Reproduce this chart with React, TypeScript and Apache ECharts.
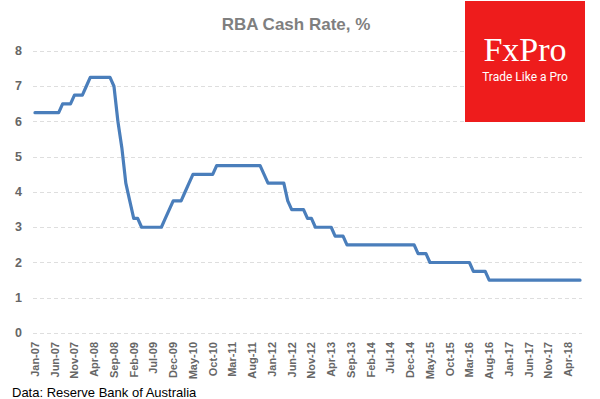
import React, { useEffect, useRef } from "react";
import * as echarts from "echarts";

const monthNames = ["Jan", "Feb", "Mar", "Apr", "May", "Jun", "Jul", "Aug", "Sep", "Oct", "Nov", "Dec"];
const years = ["07", "08", "09", "10", "11", "12", "13", "14", "15", "16", "17", "18"];
const lastYearMonths = 7; // data runs to Jul-18

const rate2007 = [6.25, 6.25, 6.25, 6.25, 6.25, 6.25, 6.25, 6.5, 6.5, 6.5, 6.75, 6.75];
const rate2008 = [6.75, 7.0, 7.25, 7.25, 7.25, 7.25, 7.25, 7.25, 7.0, 6.0, 5.25, 4.25];
const rate2009 = [3.75, 3.25, 3.25, 3.0, 3.0, 3.0, 3.0, 3.0, 3.0, 3.25, 3.5, 3.75];
const rate2010 = [3.75, 3.75, 4.0, 4.25, 4.5, 4.5, 4.5, 4.5, 4.5, 4.5, 4.75, 4.75];
const rate2011 = [4.75, 4.75, 4.75, 4.75, 4.75, 4.75, 4.75, 4.75, 4.75, 4.75, 4.5, 4.25];
const rate2012 = [4.25, 4.25, 4.25, 4.25, 3.75, 3.5, 3.5, 3.5, 3.5, 3.25, 3.25, 3.0];
const rate2013 = [3.0, 3.0, 3.0, 3.0, 2.75, 2.75, 2.75, 2.5, 2.5, 2.5, 2.5, 2.5];
const rate2014 = [2.5, 2.5, 2.5, 2.5, 2.5, 2.5, 2.5, 2.5, 2.5, 2.5, 2.5, 2.5];
const rate2015 = [2.5, 2.25, 2.25, 2.25, 2.0, 2.0, 2.0, 2.0, 2.0, 2.0, 2.0, 2.0];
const rate2016 = [2.0, 2.0, 2.0, 1.75, 1.75, 1.75, 1.75, 1.5, 1.5, 1.5, 1.5, 1.5];
const rate2017 = [1.5, 1.5, 1.5, 1.5, 1.5, 1.5, 1.5, 1.5, 1.5, 1.5, 1.5, 1.5];
const rate2018 = [1.5, 1.5, 1.5, 1.5, 1.5, 1.5, 1.5];

const yTicks = [0, 1, 2, 3, 4, 5, 6, 7, 8];

const rates = [
  ...rate2007, ...rate2008, ...rate2009, ...rate2010, ...rate2011, ...rate2012,
  ...rate2013, ...rate2014, ...rate2015, ...rate2016, ...rate2017, ...rate2018,
];

const categories: string[] = [];
years.forEach((y, i) => {
  const n = i === years.length - 1 ? lastYearMonths : 12;
  for (let m = 0; m < n; m++) categories.push(`${monthNames[m]}-${y}`);
});

export default function App() {
  const ref = useRef<HTMLDivElement>(null);
  useEffect(() => {
    if (!ref.current) return;
    const chart = echarts.init(ref.current, null, { renderer: "svg" });
    chart.setOption({
      animation: false,
      backgroundColor: "#ffffff",
      title: {
        text: "RBA Cash Rate, %",
        left: 291,
        top: 11,
        textAlign: "center",
        textStyle: {
          fontFamily: "Liberation Sans",
          fontSize: 17,
          fontWeight: "bold",
          color: "#7f7f7f",
        },
      },
      grid: { left: 33, right: 18, top: 51, bottom: 66, containLabel: false },
      xAxis: {
        type: "category",
        data: categories,
        boundaryGap: true,
        axisLine: { show: false },
        axisTick: { show: false },
        axisLabel: {
          interval: 4,
          rotate: 90,
          margin: 9,
          fontFamily: "Liberation Sans",
          fontSize: 11,
          fontWeight: "bold",
          color: "#666666",
        },
        splitLine: { show: false },
      },
      yAxis: {
        type: "value",
        min: yTicks[0],
        max: yTicks[yTicks.length - 1],
        interval: 1,
        axisLine: { show: false },
        axisTick: { show: false },
        axisLabel: {
          margin: 11,
          fontFamily: "Liberation Sans",
          fontSize: 12.5,
          fontWeight: "bold",
          color: "#666666",
        },
        splitLine: {
          lineStyle: { color: "#dedede", type: [4, 3], width: 1 },
        },
      },
      series: [
        {
          type: "line",
          data: rates,
          showSymbol: false,
          symbol: "none",
          lineStyle: { color: "#4a7ebb", width: 3.2, join: "round", cap: "round" },
          z: 3,
        },
      ],
      graphic: [
        {
          type: "rect",
          z: 100,
          shape: { x: 465, y: 1, width: 120, height: 121 },
          style: { fill: "#ee1c1c" },
        },
        {
          type: "text",
          z: 101,
          x: 525,
          y: 66,
          style: {
            text: "FxPro",
            fill: "#ffffff",
            font: "34px 'Liberation Serif'",
            textAlign: "center",
            textVerticalAlign: "bottom",
          },
        },
        {
          type: "text",
          z: 101,
          x: 525,
          y: 77,
          style: {
            text: "Trade Like a Pro",
            fill: "#ffffff",
            font: "12px Roboto",
            textAlign: "center",
            textVerticalAlign: "middle",
          },
        },
        {
          type: "text",
          z: 101,
          x: 12,
          y: 392,
          style: {
            text: "Data: Reserve Bank of Australia",
            fill: "#000000",
            font: "13px 'Liberation Sans'",
            textAlign: "left",
            textVerticalAlign: "middle",
          },
        },
      ],
    });
    return () => chart.dispose();
  }, []);
  return <div ref={ref} style={{ width: 600, height: 399, position: "absolute", left: 0, top: 0 }} />;
}
